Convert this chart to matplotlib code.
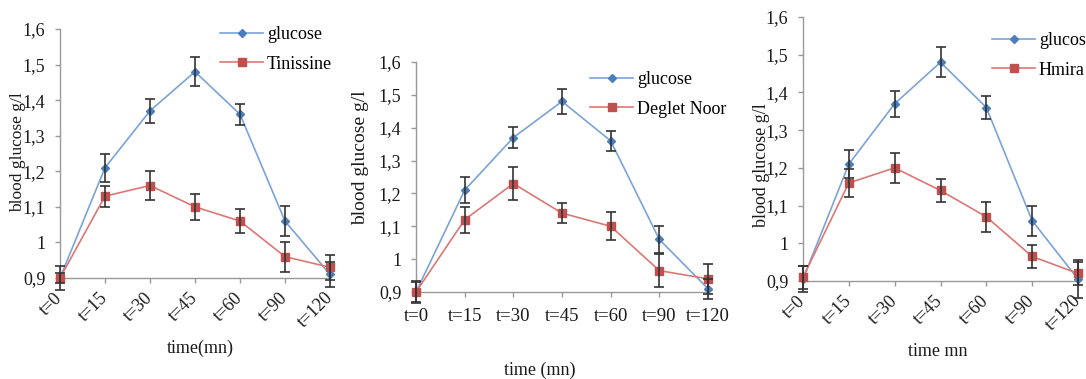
import numpy as np
import matplotlib
matplotlib.use("Agg")
import matplotlib.pyplot as plt

plt.rcParams['font.family'] = ['Liberation Serif', 'DejaVu Serif']

# ==== DATA ====
times = ["t=0", "t=15", "t=30", "t=45", "t=60", "t=90", "t=120"]

glucose_1 = [0.90, 1.21, 1.37, 1.48, 1.36, 1.06, 0.91]
glucose_1_err = [0.033, 0.04, 0.034, 0.04, 0.03, 0.042, 0.035]
tinissine = [0.90, 1.13, 1.16, 1.10, 1.06, 0.96, 0.93]
tinissine_err = [0.015, 0.03, 0.04, 0.037, 0.033, 0.042, 0.035]

glucose_2 = [0.90, 1.21, 1.37, 1.48, 1.36, 1.06, 0.91]
glucose_2_err = [0.033, 0.039, 0.033, 0.039, 0.03, 0.042, 0.03]
deglet_noor = [0.90, 1.12, 1.23, 1.14, 1.10, 0.965, 0.94]
deglet_noor_err = [0.03, 0.04, 0.05, 0.03, 0.043, 0.05, 0.045]

glucose_3 = [0.905, 1.21, 1.37, 1.48, 1.36, 1.06, 0.905]
glucose_3_err = [0.035, 0.038, 0.034, 0.04, 0.03, 0.04, 0.05]
hmira = [0.91, 1.16, 1.20, 1.14, 1.07, 0.965, 0.92]
hmira_err = [0.03, 0.036, 0.04, 0.03, 0.04, 0.03, 0.03]

yticks = [0.9, 1.0, 1.1, 1.2, 1.3, 1.4, 1.5, 1.6]
ytick_labels = ["0,9", "1", "1,1", "1,2", "1,3", "1,4", "1,5", "1,6"]

W, H = 1086, 379
fig = plt.figure(figsize=(W / 100, H / 100), dpi=100)

blue_line = '#7aa3d8'
blue_mark = '#4a7ebb'
red_line = '#dc7774'
red_mark = '#c0504d'
spine_col = '#999999'
txt_col = '#1a1a1a'


def px_axes(l, t, r, b):
    return fig.add_axes([l / W, 1 - b / H, (r - l) / W, (b - t) / H])


def panel(box, g, g_err, s, s_err, name, rot, leg_xy, xlab, xlab_xy,
          ylab_xy, ylab_size):
    ax = px_axes(*box)
    x = np.arange(len(times))
    ax.plot(x, g, color=blue_line, lw=1.2, marker='D', ms=4,
            mfc=blue_mark, mec=blue_mark, label="glucose", zorder=3, clip_on=False)
    ax.plot(x, s, color=red_line, lw=1.2, marker='s', ms=5.8,
            mfc=red_mark, mec=red_mark, label=name, zorder=3, clip_on=False)
    ax.errorbar(x, g, yerr=g_err, fmt='none', ecolor='#333333', elinewidth=1.2,
                capsize=3.8, capthick=1.2, zorder=4, clip_on=False)
    ax.errorbar(x, s, yerr=s_err, fmt='none', ecolor='#333333', elinewidth=1.2,
                capsize=3.8, capthick=1.2, zorder=4, clip_on=False)
    ax.set_xlim(0, len(times) - 1)
    ax.set_ylim(0.9, 1.6)
    ax.set_yticks(yticks)
    ax.set_yticklabels(ytick_labels, fontsize=13)
    ax.set_xticks(x)
    if rot:
        ax.set_xticklabels(times, fontsize=13, rotation=45, ha='right',
                           va='center', rotation_mode='anchor')
        ax.tick_params(axis='x', pad=9)
    else:
        ax.set_xticklabels(times, fontsize=13.5)
        ax.tick_params(axis='x', pad=8)
    for sp in ['top', 'right']:
        ax.spines[sp].set_visible(False)
    for sp in ['left', 'bottom']:
        ax.spines[sp].set_color(spine_col)
        ax.spines[sp].set_linewidth(1.0)
    ax.tick_params(axis='both', colors=spine_col, labelcolor=txt_col,
                   length=3.6, width=1.0)
    ax.tick_params(axis='y', pad=7)
    ax.patch.set_alpha(0)
    ax.legend(loc='upper left', bbox_to_anchor=(leg_xy[0] / W, 1 - leg_xy[1] / H),
              bbox_transform=fig.transFigure, frameon=False, fontsize=13,
              handlelength=2.4, handletextpad=0.2, labelspacing=0.7,
              borderpad=0, borderaxespad=0)
    fig.text(xlab_xy[0] / W, 1 - xlab_xy[1] / H, xlab, fontsize=13,
             ha='center', va='center', color=txt_col)
    fig.text(ylab_xy[0] / W, 1 - ylab_xy[1] / H, "blood glucose g/l",
             fontsize=ylab_size, rotation=90, ha='center', va='center',
             color=txt_col)
    return ax


panel((60, 29, 330, 278), glucose_1, glucose_1_err, tinissine, tinissine_err,
      "Tinissine", True, (220, 26), "time(mn)", (200, 348), (18, 152), 12.5)
panel((416, 62, 708, 292), glucose_2, glucose_2_err, deglet_noor, deglet_noor_err,
      "Deglet Noor", False, (590, 71), "time (mn)", (540, 370), (361, 158), 14)
panel((803, 17, 1078, 281), glucose_3, glucose_3_err, hmira, hmira_err,
      "Hmira", True, (992, 32), "time mn", (938, 352), (761, 165), 13)

fig.savefig("out.png", dpi=100)
